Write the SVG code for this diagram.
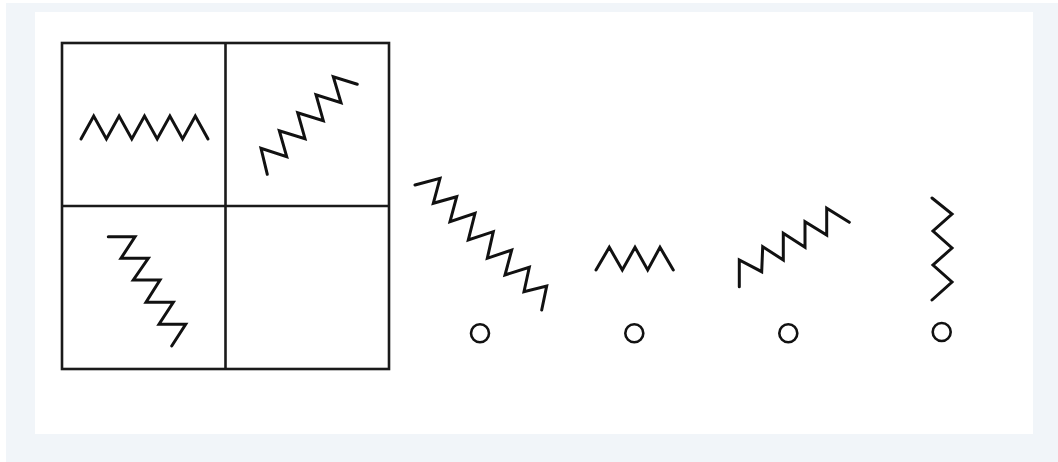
<svg xmlns="http://www.w3.org/2000/svg" width="1058" height="462" viewBox="0 0 1058 462">
<style>
.zz{fill:none;stroke:#111;stroke-width:3;stroke-linejoin:miter;stroke-linecap:round}
.grid{fill:none;stroke:#1a1a1a;stroke-width:2.6}
.dot{fill:none;stroke:#111;stroke-width:2.6}
</style>
<rect x="6" y="3" width="1052" height="459" fill="#f1f5f9"/>
<rect x="35" y="12" width="998" height="422" fill="#ffffff"/>
<g id="grid">
<rect class="grid" x="62" y="43" width="327" height="326"/>
<line class="grid" x1="225.5" y1="43" x2="225.5" y2="369"/>
<line class="grid" x1="62" y1="206" x2="389" y2="206"/>
</g>
<g id="cell1">
<polyline class="zz" points="81,139 93.7,116 106.4,139 119.1,116 131.8,139 144.5,116 157.2,139 169.9,116 182.6,139 195.3,116 208,139"/>
</g>
<g id="cell2">
<polyline class="zz" points="267.3,174.3 261,148.3 286.7,156.7 279.3,130.7 305,138.7 297.7,112.7 323.3,120.7 316,94.7 341,102.7 333.3,76.7 357.3,84.3"/>
</g>
<g id="cell3">
<polyline class="zz" points="108.3,236.7 135,236.7 121,258.3 148.3,258.3 133.3,280 160,280 146,302.3 173.3,302.3 159,324.3 185.7,324.3 171.7,346"/>
</g>
<g id="option1">
<polyline class="zz" points="415,185 440,178.3 433.3,203.3 456.7,196.7 450,221.7 475,213.3 468.3,240 493.3,231.7 487.3,258.3 511.7,250 505,275 529.3,267.3 524,291.7 546.7,286 541.7,310"/>
<circle class="dot" cx="480" cy="333.3" r="9"/>
</g>
<g id="option2">
<polyline class="zz" points="596,270 609.3,247.3 622.3,270 635,247.3 647.7,270 660,247.3 673.3,270"/>
<circle class="dot" cx="634.3" cy="333.3" r="9"/>
</g>
<g id="option3">
<polyline class="zz" points="739.3,286.7 739.3,260 761.7,271.7 762.7,246.7 783.3,260 783.3,233.3 805,247.3 805,221.7 826.7,235 826.7,208.3 849.3,222.3"/>
<circle class="dot" cx="788.3" cy="333.3" r="9"/>
</g>
<g id="option4">
<polyline class="zz" points="932,198 952,214 933,231 952,248 933,265 952,282 932,300"/>
<circle class="dot" cx="941.7" cy="332" r="9"/>
</g>
<g id="connectors"></g>
</svg>
